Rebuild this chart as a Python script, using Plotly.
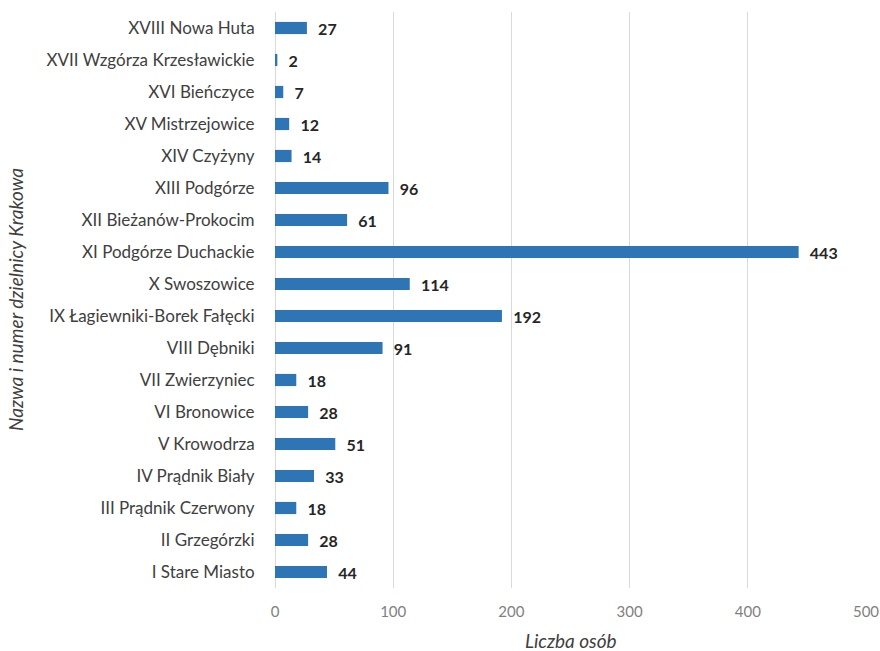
import plotly.graph_objects as go

districts = [
    "I Stare Miasto", "II Grzegórzki", "III Prądnik Czerwony", "IV Prądnik Biały",
    "V Krowodrza", "VI Bronowice", "VII Zwierzyniec", "VIII Dębniki",
    "IX Łagiewniki-Borek Fałęcki", "X Swoszowice", "XI Podgórze Duchackie",
    "XII Bieżanów-Prokocim", "XIII Podgórze", "XIV Czyżyny", "XV Mistrzejowice",
    "XVI Bieńczyce", "XVII Wzgórza Krzesławickie", "XVIII Nowa Huta",
]
counts = [44, 28, 18, 33, 51, 28, 18, 91, 192, 114, 443, 61, 96, 14, 12, 7, 2, 27]
x_ticks = [0, 100, 200, 300, 400, 500]

FONT = "Lato"
L, R, T, B = 275, 14, 12, 63
W, H = 880, 651

fig = go.Figure(go.Bar(
    y=districts, x=counts, orientation="h",
    marker=dict(color="#2E75B6", line=dict(width=0)),
    text=["\u00a0\u00a0<b>%d</b>" % v for v in counts],
    textposition="outside",
    constraintext="none",
    textfont=dict(family=FONT, size=16, color="#262626"),
    cliponaxis=False,
))

fig.update_layout(
    width=W, height=H,
    paper_bgcolor="white", plot_bgcolor="white",
    margin=dict(l=L, r=R, t=T, b=B, autoexpand=False),
    bargap=0.62,
    showlegend=False,
    xaxis=dict(
        range=[0, 500], tickvals=x_ticks, ticktext=[str(t) for t in x_ticks],
        showgrid=True, gridcolor="#D9D9D9", gridwidth=1,
        zeroline=True, zerolinecolor="#D9D9D9", zerolinewidth=1,
        tickfont=dict(family=FONT, size=15, color="#7F7F7F"),
        ticks="outside", ticklen=10, tickcolor="rgba(0,0,0,0)", showline=False,
        automargin=False,
    ),
    yaxis=dict(
        categoryorder="array", categoryarray=districts,
        tickfont=dict(family=FONT, size=17, color="#404040"),
        ticks="outside", ticklen=16, tickcolor="rgba(0,0,0,0)",
        showgrid=False, zeroline=False, showline=False,
        automargin=False,
    ),
    annotations=[
        dict(text="<i>Liczba osób</i>", x=0.5, xref="paper",
             y=-(640 - (H - B)) / (H - T - B), yref="paper",
             xanchor="center", yanchor="middle", showarrow=False,
             font=dict(family=FONT, size=19, color="#404040")),
        dict(text="<i>Nazwa i numer dzielnicy Krakowa</i>",
             x=(15 - L) / (W - L - R), xref="paper",
             y=0.5, yref="paper", xanchor="center", yanchor="middle", showarrow=False,
             textangle=-90, font=dict(family=FONT, size=19, color="#404040")),
    ],
)

fig.write_html("out.html", config={"displayModeBar": False},
               post_script="document.body.style.margin='0';")
